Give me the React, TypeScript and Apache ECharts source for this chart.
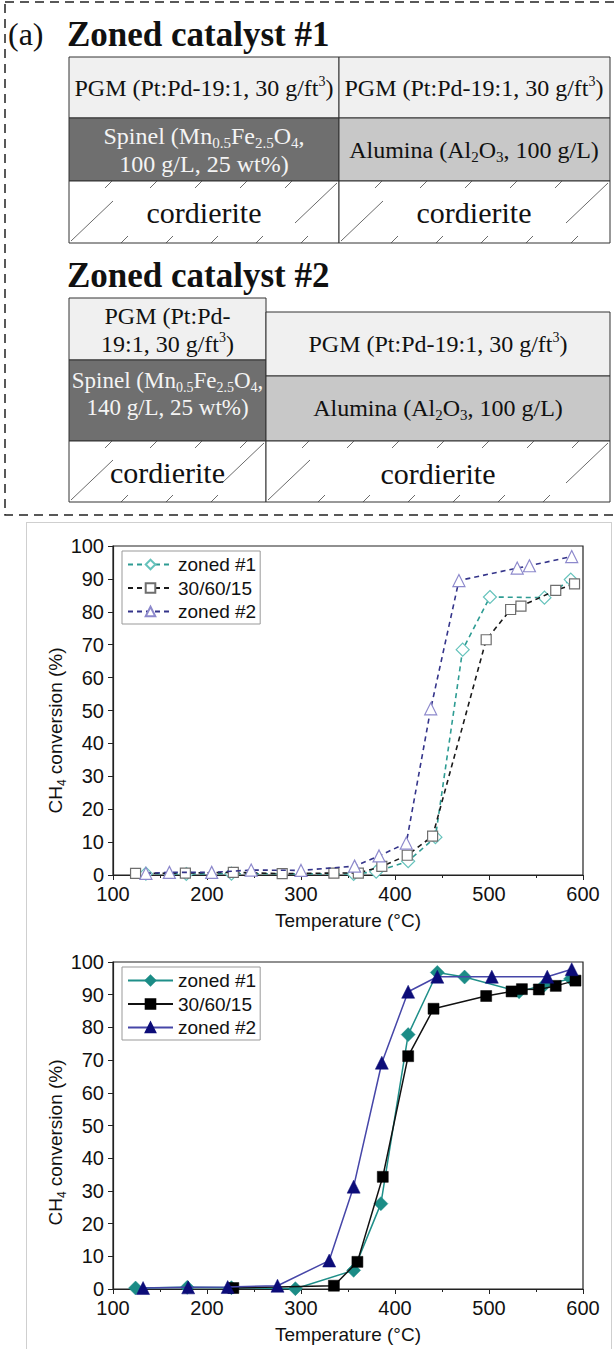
import React, { useEffect, useRef } from "react";
import * as echarts from "echarts";

// ---------- data ----------
const seriesNames = ["zoned #1", "30/60/15", "zoned #2"];
const xTickValues = [100, 200, 300, 400, 500, 600];
const yTickValues = [0, 10, 20, 30, 40, 50, 60, 70, 80, 90, 100];

// upper panel (dashed lines, open symbols)
const topZoned1 = [[135, 0.4], [178, 0.3], [226, 0.4], [356, 0.3], [380, 1.0], [414, 4.2], [443, 11.5], [472, 68.5], [501, 84.5], [559, 84.3], [587, 89.8]];
const top306015 = [[124, 0.5], [177, 0.6], [228, 0.8], [280, 0.4], [335, 0.6], [361, 0.6], [386, 2.6], [413, 6.0], [440, 11.8], [497, 71.5], [523, 80.7], [534, 81.7], [571, 86.5], [591, 88.5]];
const topZoned2 = [[135, 0.5], [160, 0.8], [205, 0.8], [247, 1.5], [300, 1.4], [357, 2.7], [383, 5.8], [412, 9.7], [438, 50.5], [468, 89.5], [530, 93.3], [543, 94.0], [588, 96.8]];

// lower panel (solid lines, filled symbols)
const botZoned1 = [[124, 0.3], [179, 0.5], [226, 0.4], [294, 0.1], [356, 5.7], [385, 26.1], [414, 77.8], [445, 96.8], [474, 95.4], [532, 90.9], [559, 93.0], [587, 94.9]];
const bot306015 = [[228, 0.3], [335, 1.0], [360, 8.3], [387, 34.3], [414, 71.2], [441, 85.7], [497, 89.6], [524, 91.0], [535, 91.7], [553, 91.6], [571, 92.7], [592, 94.3]];
const botZoned2 = [[132, 0.3], [180, 0.5], [222, 0.6], [275, 1.0], [330, 8.7], [356, 31.3], [386, 69.2], [414, 90.9], [445, 95.5], [503, 95.5], [562, 95.5], [588, 97.8]];

// ---------- styles ----------
const sans = '"Liberation Sans", Arial, sans-serif';
const serif = '"Liberation Serif", "Times New Roman", serif';

function rich(fs: number, color: string) {
  return {
    n: { fontSize: fs, fontFamily: serif, fill: color, lineHeight: fs + 4 },
    sb: { fontSize: Math.round(fs * 0.62), fontFamily: serif, fill: color, lineHeight: Math.round(fs * 0.62), verticalAlign: "bottom" },
    sp: { fontSize: Math.round(fs * 0.6), fontFamily: serif, fill: color, lineHeight: Math.round(fs * 0.9), verticalAlign: "top" },
  };
}

function txt(x: number, y: number, text: string, fs: number, color = "#111") {
  return {
    type: "text",
    x,
    y,
    z: 10,
    style: { text, rich: rich(fs, color), align: "center", verticalAlign: "middle", fill: color, fontSize: fs, fontFamily: serif },
  };
}

function cell(x: number, y: number, w: number, h: number, fill: string) {
  return {
    type: "rect",
    shape: { x, y, width: w, height: h },
    style: { fill, stroke: "#333", lineWidth: 1 },
  };
}

function hatch(x: number, y: number, w: number, h: number) {
  const els: any[] = [];
  const st = { stroke: "#444", lineWidth: 0.8 };
  els.push({ type: "line", z: 5, shape: { x1: x + 2, y1: y + h - 2, x2: x + 44, y2: y + h - 42 }, style: st });
  els.push({ type: "line", z: 5, shape: { x1: x + w - 44, y1: y + 42, x2: x + w - 2, y2: y + 2 }, style: st });
  for (let xi = x + 36; xi < x + w - 10; xi += 45) {
    els.push({ type: "line", z: 5, shape: { x1: xi, y1: y + 7, x2: xi + 7, y2: y }, style: st });
  }
  for (let xi = x + 52; xi < x + w - 30; xi += 45) {
    els.push({ type: "line", z: 5, shape: { x1: xi, y1: y + h, x2: xi + 7, y2: y + h - 7 }, style: st });
  }
  return els;
}

const PGM1 = "{n|PGM (Pt:Pd-19:1, 30 g/ft}{sp|3}{n|)}";
const SPINEL_A = "{n|Spinel (Mn}{sb|0.5}{n|Fe}{sb|2.5}{n|O}{sb|4}{n|,}";
const ALUMINA = "{n|Alumina (Al}{sb|2}{n|O}{sb|3}{n|, 100 g/L)}";

function diagramOption() {
  const g: any[] = [];
  g.push({ type: "rect", shape: { x: 5, y: 2, width: 700, height: 513 }, style: { fill: "none", stroke: "#222", lineWidth: 1.5, lineDash: [9, 6] } });
  g.push({ type: "text", x: 8, y: 34, style: { text: "(a)", fontSize: 32, fontFamily: serif, fill: "#111", align: "left", verticalAlign: "middle" } });
  g.push({ type: "text", x: 67, y: 34, style: { text: "Zoned catalyst #1", fontSize: 35, fontWeight: "bold", fontFamily: serif, fill: "#111", align: "left", verticalAlign: "middle" } });
  g.push({ type: "text", x: 67, y: 275, style: { text: "Zoned catalyst #2", fontSize: 35, fontWeight: "bold", fontFamily: serif, fill: "#111", align: "left", verticalAlign: "middle" } });

  // table 1
  g.push(cell(69, 57, 270, 61, "#f0f0f0"));
  g.push(cell(339, 57, 271, 61, "#f0f0f0"));
  g.push(cell(69, 118, 270, 63, "#6f6f6f"));
  g.push(cell(339, 118, 271, 63, "#c8c8c8"));
  g.push(cell(69, 181, 270, 62, "#ffffff"));
  g.push(cell(339, 181, 271, 62, "#ffffff"));
  g.push(...hatch(69, 181, 270, 62));
  g.push(...hatch(339, 181, 271, 62));
  g.push(txt(204, 88, PGM1, 24));
  g.push(txt(474, 88, PGM1, 24));
  g.push(txt(204, 150, SPINEL_A + "\n{n|100 g/L, 25 wt%)}", 24, "#f4f4f4"));
  g.push(txt(474, 150, ALUMINA, 24));
  g.push(txt(204, 212, "{n|cordierite}", 30));
  g.push(txt(474, 212, "{n|cordierite}", 30));

  // table 2
  g.push(cell(69, 298, 197, 62, "#f0f0f0"));
  g.push(cell(69, 360, 197, 81, "#6f6f6f"));
  g.push(cell(69, 441, 197, 61, "#ffffff"));
  g.push(cell(266, 312, 344, 64, "#f0f0f0"));
  g.push(cell(266, 376, 344, 65, "#c8c8c8"));
  g.push(cell(266, 441, 344, 61, "#ffffff"));
  g.push(...hatch(69, 441, 197, 61));
  g.push(...hatch(266, 441, 344, 61));
  g.push(txt(167.5, 330, "{n|PGM (Pt:Pd-}\n{n|19:1, 30 g/ft}{sp|3}{n|)}", 24));
  g.push(txt(167.5, 394, SPINEL_A + "\n{n|140 g/L, 25 wt%)}", 23, "#f4f4f4"));
  g.push(txt(167.5, 472, "{n|cordierite}", 30));
  g.push(txt(438, 344, PGM1, 24));
  g.push(txt(438, 408, ALUMINA, 24));
  g.push(txt(438, 473, "{n|cordierite}", 30));

  return { animation: false, graphic: { elements: g } };
}

type SStyle = { symbol: string; size: number; fill: string; border: string; line: string; dash: any };

const topStyles: SStyle[] = [
  { symbol: "diamond", size: 13, fill: "#ffffff", border: "#66c3bc", line: "#2e9c93", dash: [5, 4] },
  { symbol: "rect", size: 10, fill: "#ffffff", border: "#6e6e6e", line: "#1a1a1a", dash: [5, 4] },
  { symbol: "triangle", size: 12, fill: "#ffffff", border: "#8d89cc", line: "#34348a", dash: [5, 4] },
];
const botStyles: SStyle[] = [
  { symbol: "diamond", size: 14, fill: "#1b8c86", border: "#1b8c86", line: "#1f8f89", dash: "solid" },
  { symbol: "rect", size: 11, fill: "#000000", border: "#000000", line: "#111111", dash: "solid" },
  { symbol: "triangle", size: 13, fill: "#0c0c78", border: "#0c0c78", line: "#4646a8", dash: "solid" },
];

function chartOption(isTop: boolean) {
  const datasets = isTop ? [topZoned1, top306015, topZoned2] : [botZoned1, bot306015, botZoned2];
  const styles = isTop ? topStyles : botStyles;
  const gridTop = isTop ? 26 : 27;
  const gridH = isTop ? 332 : 331;
  return {
    animation: false,
    grid: { left: 113, top: gridTop, width: 470, height: gridH, show: true, borderColor: "#222", borderWidth: 1.2, backgroundColor: "transparent" },
    legend: {
      orient: "vertical",
      left: 122,
      top: gridTop + 5,
      itemWidth: 45,
      itemHeight: 12,
      itemGap: 4.5,
      padding: [4, 4, 3, 5],
      borderColor: "#999",
      borderWidth: 1,
      data: seriesNames,
      textStyle: { fontSize: 19, fontFamily: sans, color: "#111" },
    },
    xAxis: {
      type: "value",
      min: xTickValues[0],
      max: xTickValues[xTickValues.length - 1],
      interval: 100,
      axisLine: { show: true, onZero: false, lineStyle: { color: "#222", width: 1.2 } },
      axisTick: { show: true, length: 5, lineStyle: { color: "#222" } },
      minorTick: { show: true, splitNumber: 2, length: 3, lineStyle: { color: "#222" } },
      splitLine: { show: false },
      axisLabel: { fontSize: 20, fontFamily: sans, color: "#111", margin: 9 },
      name: "Temperature (°C)",
      nameLocation: "middle",
      nameGap: 36,
      nameMoveOverlap: false,
      nameTextStyle: { fontSize: 19, fontFamily: sans, color: "#111" },
    },
    yAxis: {
      type: "value",
      min: yTickValues[0],
      max: yTickValues[yTickValues.length - 1],
      interval: 10,
      axisLine: { show: true, lineStyle: { color: "#222", width: 1.2 } },
      axisTick: { show: true, length: 5, lineStyle: { color: "#222" } },
      splitLine: { show: false },
      axisLabel: { fontSize: 20, fontFamily: sans, color: "#111", margin: 9 },
      name: "{a|CH}{b|4}{a| conversion (%)}",
      nameLocation: "middle",
      nameRotate: 90,
      nameGap: 45,
      nameMoveOverlap: false,
      nameTextStyle: {
        padding: [0, isTop ? 40 : 34, 0, 0],
        rich: {
          a: { fontSize: 19, fontFamily: sans, color: "#111", lineHeight: 26 },
          b: { fontSize: 12, fontFamily: sans, color: "#111", lineHeight: 12, verticalAlign: "bottom" },
        },
      },
    },
    series: seriesNames.map((name, i) => ({
      name,
      type: "line",
      data: datasets[i],
      symbol: styles[i].symbol,
      symbolSize: styles[i].size,
      itemStyle: { color: styles[i].fill, borderColor: styles[i].border, borderWidth: isTop ? 1.2 : 0.5 },
      lineStyle: { color: styles[i].line, width: isTop ? 1.6 : 1.5, type: styles[i].dash },
      z: 2 + i,
    })),
  };
}

export default function App() {
  const diagRef = useRef<HTMLDivElement>(null);
  const c1Ref = useRef<HTMLDivElement>(null);
  const c2Ref = useRef<HTMLDivElement>(null);
  useEffect(() => {
    document.body.style.margin = "0";
    const d = echarts.init(diagRef.current!, null, { renderer: "svg" });
    d.setOption(diagramOption() as any);
    const c1 = echarts.init(c1Ref.current!, null, { renderer: "svg" });
    c1.setOption(chartOption(true) as any);
    const c2 = echarts.init(c2Ref.current!, null, { renderer: "svg" });
    c2.setOption(chartOption(false) as any);
    return () => {
      d.dispose();
      c1.dispose();
      c2.dispose();
    };
  }, []);
  return (
    <div style={{ position: "relative", width: 614, height: 1349, background: "#fff", overflow: "hidden" }}>
      <div ref={diagRef} style={{ position: "absolute", left: 0, top: 0, width: 614, height: 520 }} />
      <div style={{ position: "absolute", left: 26, top: 522, width: 586, height: 840, border: "1px solid #cfcfcf", boxSizing: "border-box" }} />
      <div ref={c1Ref} style={{ position: "absolute", left: 0, top: 520, width: 614, height: 415 }} />
      <div ref={c2Ref} style={{ position: "absolute", left: 0, top: 935, width: 614, height: 414 }} />
    </div>
  );
}
